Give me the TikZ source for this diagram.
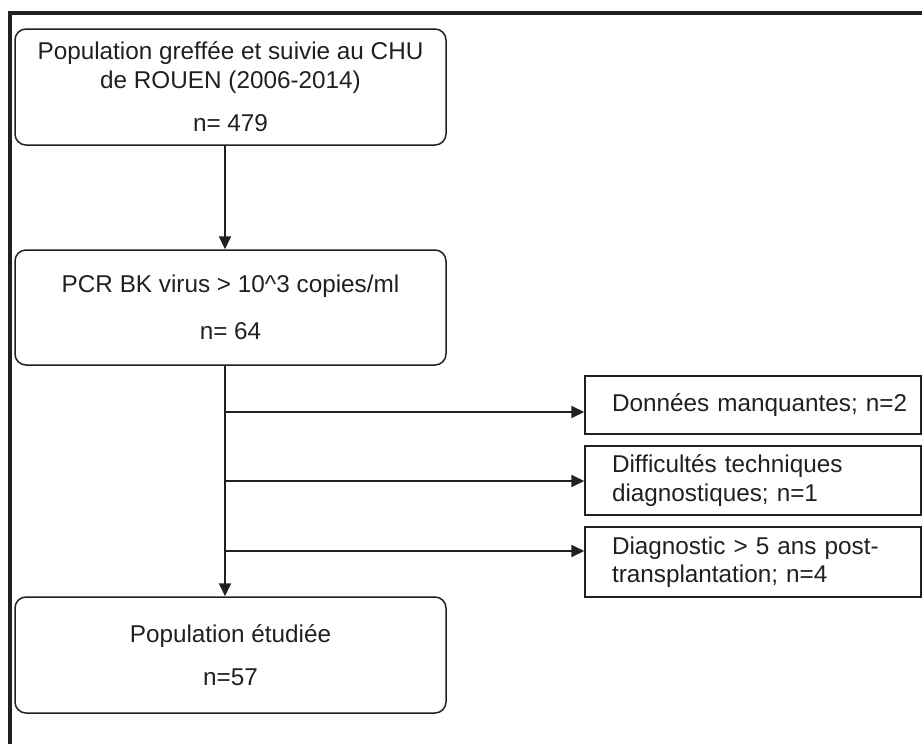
\documentclass[tikz,border=0pt]{standalone}
\usepackage{fontspec}
\setmainfont{Liberation Sans}
\usetikzlibrary{arrows.meta}
\definecolor{ink}{RGB}{35,31,32}
\newcommand\sideindent{\setlength{\leftskip}{14pt}}

\begin{document}
\begin{tikzpicture}[x=1pt, y=-1pt,
	every node/.style={font=\fontsize{24.3}{28.5}\selectfont, text=ink},
	stage/.style={draw=ink, line width=1.5pt, rounded corners=11pt, minimum width=431pt, align=center, inner sep=0pt},
	outbox/.style={draw=ink, line width=1.5pt, minimum width=336pt, text width=310pt, inner xsep=13pt, inner ysep=0pt, align=left, execute at begin node=\sideindent},
	flow/.style={draw=ink, line width=2pt, -{Triangle[length=13pt,width=12pt]}}]
			%%%%% START %%%%%
			\useasboundingbox (0,0) rectangle (922,744);
			
			\draw[line width=4pt, ink] (10.3,744) -- (10.3,13) -- (922,13);
			
			\node[stage, minimum height=116pt] (greffe) at (230.5,87) {Population greffée et suivie au CHU\\de ROUEN (2006-2014)\\[15pt]n= 479};
			\node[stage, minimum height=115pt] (pcr) at (230.5,307.5) {PCR BK virus > 10\textasciicircum3 copies/ml\\[18pt]n= 64};
			\node[stage, minimum height=116pt] (etude) at (230.5,655) {Population étudiée\\[14pt]n=57};
			
			\node[outbox, minimum height=58pt] (manque) at (753,405) {Données manquantes; n=2};
			\node[outbox, minimum height=69pt] (technique) at (753,480.5) {Difficultés techniques\\diagnostiques; n=1};
			\node[outbox, minimum height=70pt] (delai) at (753,562) {Diagnostic > 5 ans post-\\transplantation; n=4};
			
			\draw[flow] ([xshift=-5.5pt]greffe.south) -- ([xshift=-5.5pt]pcr.north);
			\draw[flow] ([xshift=-5.5pt]pcr.south) -- ([xshift=-5.5pt]etude.north);
			
			\coordinate (b1) at (225,412);
			\coordinate (b2) at (225,481);
			\coordinate (b3) at (225,551);
			\draw[flow] (b1) -- (b1 -| manque.west);
			\draw[flow] (b2) -- (b2 -| technique.west);
			\draw[flow] (b3) -- (b3 -| delai.west);
			
			%%%%% END %%%%%
\end{tikzpicture}
\end{document}
